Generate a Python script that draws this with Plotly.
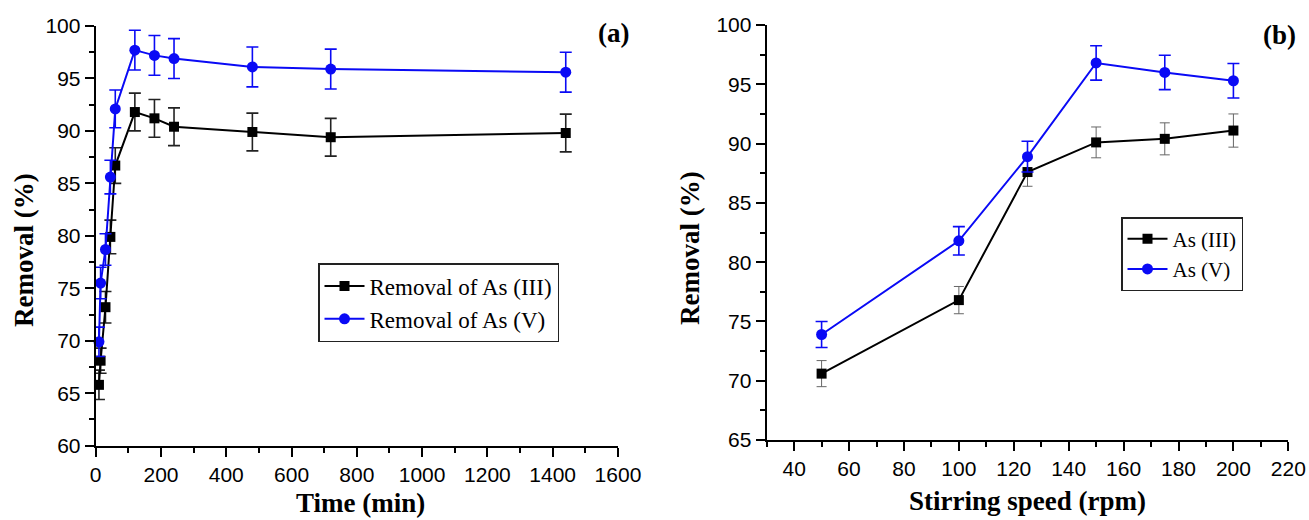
import plotly.graph_objects as go

# Panel (a): removal vs contact time
time_min = [10, 15, 30, 45, 60, 120, 180, 240, 480, 720, 1440]
as3_time = [65.8, 68.1, 73.2, 79.9, 86.7, 91.8, 91.2, 90.4, 89.9, 89.4, 89.8]
as5_time = [69.9, 75.5, 78.7, 85.6, 92.1, 97.7, 97.2, 96.9, 96.1, 95.9, 95.6]
as3_time_err = [1.4, 1.2, 1.5, 1.6, 1.7, 1.8, 1.8, 1.8, 1.8, 1.8, 1.8]
as5_time_err = [1.4, 1.5, 1.5, 1.6, 1.8, 1.9, 1.9, 1.9, 1.9, 1.9, 1.9]

# Panel (b): removal vs stirring speed
speed_rpm = [50, 100, 125, 150, 175, 200]
as3_speed = [70.6, 76.8, 87.6, 90.1, 90.4, 91.1]
as5_speed = [73.9, 81.8, 88.9, 96.8, 96.0, 95.3]
as3_speed_err = [1.1, 1.15, 1.2, 1.3, 1.35, 1.4]
as5_speed_err = [1.1, 1.2, 1.3, 1.45, 1.45, 1.45]

BLUE = "#0a0af5"
SERIF = "Liberation Serif"
SANS = "Liberation Sans"

fig = go.Figure()

fig.add_trace(go.Scatter(
    x=time_min, y=as3_time, mode="lines+markers", name="Removal of As (III)",
    line=dict(color="black", width=2), marker=dict(symbol="square", size=10, color="black"),
    error_y=dict(type="data", array=as3_time_err, color="#222", thickness=1.6, width=6),
    xaxis="x", yaxis="y", legend="legend", cliponaxis=False))
fig.add_trace(go.Scatter(
    x=time_min, y=as5_time, mode="lines+markers", name="Removal of As (V)",
    line=dict(color=BLUE, width=2), marker=dict(symbol="circle", size=11, color=BLUE),
    error_y=dict(type="data", array=as5_time_err, color=BLUE, thickness=1.6, width=6),
    xaxis="x", yaxis="y", legend="legend", cliponaxis=False))

fig.add_trace(go.Scatter(
    x=speed_rpm, y=as3_speed, mode="lines+markers", name="As (III)",
    line=dict(color="black", width=2), marker=dict(symbol="square", size=10, color="black"),
    error_y=dict(type="data", array=as3_speed_err, color="#666", thickness=1, width=5),
    xaxis="x2", yaxis="y2", legend="legend2", cliponaxis=False))
fig.add_trace(go.Scatter(
    x=speed_rpm, y=as5_speed, mode="lines+markers", name="As (V)",
    line=dict(color=BLUE, width=2), marker=dict(symbol="circle", size=11, color=BLUE),
    error_y=dict(type="data", array=as5_speed_err, color=BLUE, thickness=1.6, width=6),
    xaxis="x2", yaxis="y2", legend="legend2", cliponaxis=False))

tickfont = dict(family=SANS, size=21, color="black")
axis_common = dict(showline=True, linecolor="black", linewidth=2, ticks="outside",
                   ticklen=9, tickwidth=2, tickcolor="black", showgrid=False,
                   zeroline=False, tickfont=tickfont, mirror=False, automargin=False)

fig.update_layout(
    template="none",
    width=1309, height=520,
    margin=dict(l=0, r=0, t=0, b=0, autoexpand=False),
    paper_bgcolor="white", plot_bgcolor="white",
    xaxis=dict(domain=[0.0731, 0.4721], range=[0, 1600], dtick=200, tick0=0,
               anchor="y",
               minor=dict(ticks="outside", ticklen=5, tickwidth=2, tickcolor="black", dtick=100),
               **axis_common),
    yaxis=dict(domain=[0.1429, 0.95], range=[60, 100], dtick=5, tick0=60,
               anchor="x",
               minor=dict(ticks="outside", ticklen=5, tickwidth=2, tickcolor="black", dtick=2.5),
               **axis_common),
    xaxis2=dict(domain=[0.5857, 0.9842], range=[30, 220], dtick=20, tick0=40,
                anchor="y2",
                minor=dict(ticks="outside", ticklen=5, tickwidth=2, tickcolor="black", dtick=10, tick0=30),
                **axis_common),
    yaxis2=dict(domain=[0.1538, 0.9519], range=[65, 100], dtick=5, tick0=65,
                anchor="x2",
                minor=dict(ticks="outside", ticklen=5, tickwidth=2, tickcolor="black", dtick=2.5),
                **axis_common),
    legend=dict(x=318/1309, y=(520-263)/520, xanchor="left", yanchor="top",
                bordercolor="#222", borderwidth=1.5, bgcolor="white",
                font=dict(family=SERIF, size=23, color="black"),
                tracegroupgap=0, itemwidth=40),
    legend2=dict(x=1121/1309, y=(520-217)/520, xanchor="left", yanchor="top",
                 bordercolor="#222", borderwidth=1.5, bgcolor="white",
                 font=dict(family=SERIF, size=21, color="black"),
                 tracegroupgap=0, itemwidth=40),
    showlegend=True,
)

title_font = dict(family=SERIF, size=27, color="black")
annotations = [
    dict(text="<b>Time (min)</b>", x=360/1309, y=(520-503)/520, xref="paper", yref="paper",
         showarrow=False, font=title_font, xanchor="center", yanchor="middle"),
    dict(text="<b>Stirring speed (rpm)</b>", x=1027/1309, y=(520-501)/520, xref="paper", yref="paper",
         showarrow=False, font=title_font, xanchor="center", yanchor="middle"),
    dict(text="<b>Removal (%)</b>", x=24/1309, y=(520-250)/520, xref="paper", yref="paper",
         showarrow=False, font=title_font, textangle=-90, xanchor="center", yanchor="middle"),
    dict(text="<b>Removal (%)</b>", x=690/1309, y=(520-248)/520, xref="paper", yref="paper",
         showarrow=False, font=title_font, textangle=-90, xanchor="center", yanchor="middle"),
    dict(text="<b>(a)</b>", x=613/1309, y=(520-33)/520, xref="paper", yref="paper",
         showarrow=False, font=dict(family=SERIF, size=27, color="black"),
         xanchor="center", yanchor="middle"),
    dict(text="<b>(b)</b>", x=1279/1309, y=(520-35)/520, xref="paper", yref="paper",
         showarrow=False, font=dict(family=SERIF, size=27, color="black"),
         xanchor="center", yanchor="middle"),
]
fig.update_layout(annotations=annotations)

fig.write_html("out.html")
